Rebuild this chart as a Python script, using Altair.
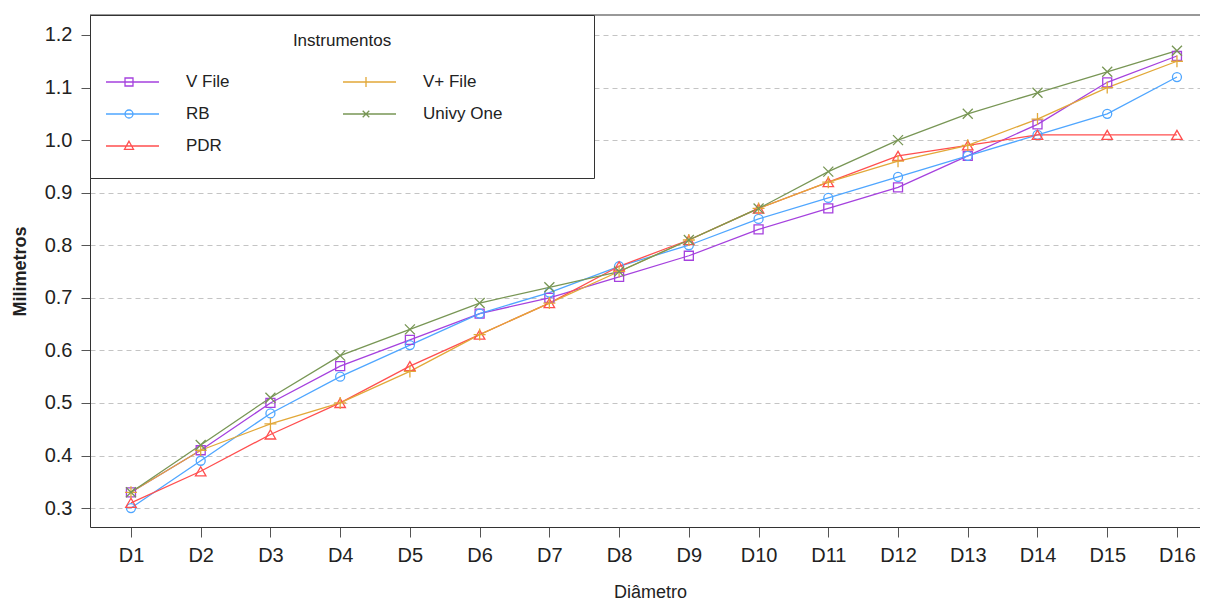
import altair as alt
import pandas as pd

# ---- data ----
diametros = ["D1", "D2", "D3", "D4", "D5", "D6", "D7", "D8",
             "D9", "D10", "D11", "D12", "D13", "D14", "D15", "D16"]
instrumentos = ["V File", "RB", "PDR", "V+ File", "Univy One"]
v_file = [0.33, 0.41, 0.50, 0.57, 0.62, 0.67, 0.70, 0.74, 0.78, 0.83, 0.87, 0.91, 0.97, 1.03, 1.11, 1.16]
rb = [0.30, 0.39, 0.48, 0.55, 0.61, 0.67, 0.71, 0.76, 0.80, 0.85, 0.89, 0.93, 0.97, 1.01, 1.05, 1.12]
pdr = [0.31, 0.37, 0.44, 0.50, 0.57, 0.63, 0.69, 0.76, 0.81, 0.87, 0.92, 0.97, 0.99, 1.01, 1.01, 1.01]
v_plus_file = [0.33, 0.41, 0.46, 0.50, 0.56, 0.63, 0.69, 0.75, 0.81, 0.87, 0.92, 0.96, 0.99, 1.04, 1.10, 1.15]
univy_one = [0.33, 0.42, 0.51, 0.59, 0.64, 0.69, 0.72, 0.75, 0.81, 0.87, 0.94, 1.00, 1.05, 1.09, 1.13, 1.17]
y_ticks = [0.3, 0.4, 0.5, 0.6, 0.7, 0.8, 0.9, 1.0, 1.1, 1.2]

series = {"V File": v_file, "RB": rb, "PDR": pdr, "V+ File": v_plus_file, "Univy One": univy_one}
colores = {"V File": "#A541DE", "RB": "#4FA6FF", "PDR": "#FF4F4F",
           "V+ File": "#E2A838", "Univy One": "#789655"}
marcadores = {"V File": "square", "RB": "circle", "PDR": "triangle-up",
              "V+ File": "M-1,0H1M0,-1V1", "Univy One": "M-1,-1L1,1M-1,1L1,-1"}
tamanos = {"V File": 81, "RB": 81, "PDR": 110, "V+ File": 144, "Univy One": 100}

rows = []
for name in instrumentos:
    for d, v in zip(diametros, series[name]):
        rows.append({"Diametro": d, "mm": v, "Instrumento": name})
df = pd.DataFrame(rows)

# legend symbols: line segment with the marker on it, as in the original
legend_paths = {
    "V File": "M-1,0H1M-0.133,-0.133H0.133V0.133H-0.133Z",
    "RB": "M-1,0H1M0.133,0A0.133,0.133 0 1,1 -0.133,0A0.133,0.133 0 1,1 0.133,0",
    "PDR": "M-1,0H1M0,-0.16L0.15,0.11L-0.15,0.11Z",
    "V+ File": "M-1,0H1M0,-0.17V0.17",
    "Univy One": "M-1,0H1M-0.11,-0.11L0.11,0.11M-0.11,0.11L0.11,-0.11",
}

FONT = "Liberation Sans"
# non-breaking spaces closed by a zero-width space (so they are not trimmed):
# they widen the legend box like the original one
PAD = "\u00a0" * 16 + "\u200b"

color_scale = alt.Scale(domain=instrumentos, range=[colores[n] for n in instrumentos])
x_scale = alt.Scale(type="point", domain=diametros, padding=0.459, align=0.64)
y_scale = alt.Scale(domain=[0.264, 1.238], nice=False, zero=False)

leyenda = alt.Legend(
    title=["", "Instrumentos"], titleLineHeight=2, titleFont=FONT, titleFontSize=17,
    titleFontWeight="normal", titleColor="#222222", titleAnchor="middle", titlePadding=16,
    labelFont=FONT, labelFontSize=17, labelColor="#222222", labelOffset=26, labelLimit=300,
    labelExpr="datum.label == 'Univy One' ? datum.label + '" + PAD + "' : datum.label",
    orient="top-left", offset=0, columns=2, direction="vertical",
    columnPadding=113, rowPadding=0, clipHeight=32,
    padding=16, fillColor="white", strokeColor="#333333",
    symbolSize=3600, symbolStrokeWidth=1.3, symbolOpacity=1, symbolOffset=-8,
)

x_axis = alt.Axis(orient="bottom", title="Diâmetro", labelAngle=0, tickSize=10,
                  labelPadding=8, titleX=560, titleY=70, titleBaseline="alphabetic",
                  titleAlign="center", grid=False)
y_axis = alt.Axis(title="Milimetros", values=y_ticks, format=".1f", tickSize=9,
                  labelPadding=9, grid=True, gridDash=[5, 4], gridColor="#c4c4c4",
                  titleFontWeight="bold", titleX=-65, titleY=256,
                  titleBaseline="alphabetic", titleAlign="center", titleAngle=270)

X = alt.X("Diametro:N", scale=x_scale, sort=diametros, axis=x_axis)
Y = alt.Y("mm:Q", scale=y_scale, axis=y_axis)
C = alt.Color("Instrumento:N", scale=color_scale, legend=leyenda)

base = alt.Chart(df)

lines = base.mark_line(strokeWidth=1.3).encode(x=X, y=Y, color=C, detail="Instrumento:N")

point_layers = []
for name in instrumentos:
    point_layers.append(
        base.transform_filter(alt.datum.Instrumento == name).mark_point(
            shape=marcadores[name], size=tamanos[name], filled=False, strokeWidth=1.3, opacity=1
        ).encode(x=X, y=Y, color=C)
    )

legend_layer = base.mark_point(opacity=0, filled=False).encode(
    x=X, y=Y, color=C,
    shape=alt.Shape("Instrumento:N",
                    scale=alt.Scale(domain=instrumentos, range=[legend_paths[n] for n in instrumentos]),
                    legend=leyenda),
)

# top border of the plot frame (the original's frame runs past the right edge)
frame_top = alt.Chart(pd.DataFrame({"f": [0]})).mark_rule(color="#333333", strokeWidth=1).encode(
    x=alt.value(0), x2=alt.value(1110), y=alt.value(0)
)

chart = alt.layer(lines, *point_layers, legend_layer, frame_top).properties(
    width=1110, height=512,
    autosize=alt.AutoSizeParams(type="none"),
    padding={"left": 82, "top": 7, "right": 0, "bottom": 73},
).configure_view(stroke=None).configure_axis(
    labelFont=FONT, labelFontSize=20, labelColor="#222222",
    titleFont=FONT, titleFontSize=18, titleColor="#222222", titleFontWeight="normal",
    domainColor="#333333", domainWidth=1, tickColor="#555555", tickWidth=1,
)

chart.save("out.html", embed_options={"renderer": "svg", "actions": False})
